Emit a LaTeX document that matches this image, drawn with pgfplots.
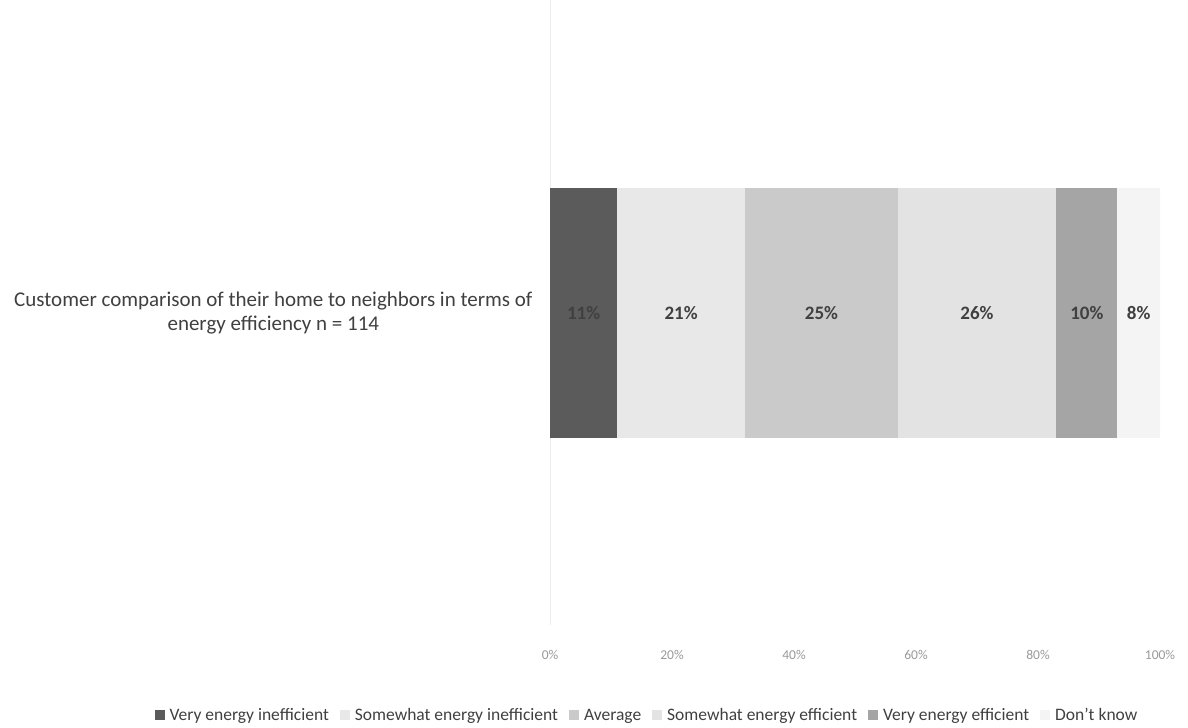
\documentclass[border=0pt]{standalone}
\usepackage{pgfplots}
\pgfplotsset{compat=1.18}
\usepackage{fontspec}
\setmainfont{Carlito}

\definecolor{txt}{HTML}{404040}
\definecolor{ticktxt}{HTML}{999999}
\definecolor{cVI}{HTML}{5B5B5B}
\definecolor{cSI}{HTML}{E8E8E8}
\definecolor{cAV}{HTML}{CACACA}
\definecolor{cSE}{HTML}{E3E3E3}
\definecolor{cVE}{HTML}{A5A5A5}
\definecolor{cDK}{HTML}{F4F4F4}

% shared geometry of the bar axis and the label overlay
\pgfplotsset{frame/.style={
  at={(550pt,102pt)}, anchor=south west,
  scale only axis, width=610pt, height=625pt,
  xmin=0, xmax=100, ymin=-1, ymax=1,
}}

\begin{document}
\begin{tikzpicture}[x=1pt,y=1pt]
\begin{axis}[
  frame,
  xbar stacked, bar width=250pt,
  axis line style={draw=none},
  tick style={draw=none},
  xtick={0,20,...,100},
  xticklabel={\pgfmathprintnumber{\tick}\%},
  /pgf/number format/assume math mode=true,
  xticklabel style={font=\fontsize{13.5}{15}\selectfont, text=ticktxt, yshift=-21pt},
  extra x ticks={0},
  extra x tick labels={},
  extra x tick style={grid=major, major grid style={draw=black!7, line width=0.8pt}},
  ytick={0},
  yticklabels={{Customer comparison of their home to neighbors in terms of\\energy efficiency n = 114}},
  yticklabel style={align=center, font=\fontsize{21}{24}\selectfont, text=txt, xshift=-14pt},
  legend style={
    at={(rel axis cs:0.159,-0.144)}, anchor=center,
    draw=none, fill=none,
    legend columns=6,
    font=\fontsize{17.5}{20}\selectfont,
    text=txt,
    /tikz/every even column/.append style={column sep=9pt},
  },
  legend cell align=left,
  legend image code/.code={\fill[#1] (0pt,-5pt) rectangle (10pt,5pt); \path (13pt,0pt);},
]
\addplot[fill=cVI, draw=none] coordinates {(11,0)};
\addlegendentry{Very energy inefficient}
\addplot[fill=cSI, draw=none] coordinates {(21,0)};
\addlegendentry{Somewhat energy inefficient}
\addplot[fill=cAV, draw=none] coordinates {(25,0)};
\addlegendentry{Average}
\addplot[fill=cSE, draw=none] coordinates {(26,0)};
\addlegendentry{Somewhat energy efficient}
\addplot[fill=cVE, draw=none] coordinates {(10,0)};
\addlegendentry{Very energy efficient}
\addplot[fill=cDK, draw=none] coordinates {(8,0)};
\addlegendentry{Don't know}
\end{axis}

% overlay with the value labels, each in the middle of its visible segment
\begin{axis}[frame, hide axis, clip=false]
\addplot[draw=none, mark=none,
  nodes near coords={\pgfplotspointmeta},
  point meta=explicit symbolic,
  every node near coord/.style={anchor=center,
    font=\bfseries\fontsize{19}{22}\selectfont, text=txt},
] coordinates {
  (5.5,0)  [11\%]
  (21.5,0) [21\%]
  (44.5,0) [25\%]
  (70,0)   [26\%]
  (88,0)   [10\%]
  (96.5,0) [8\%]
};
\end{axis}
% page frame
\path (0pt,0pt) rectangle (1188pt,727pt);
\end{tikzpicture}
\end{document}
